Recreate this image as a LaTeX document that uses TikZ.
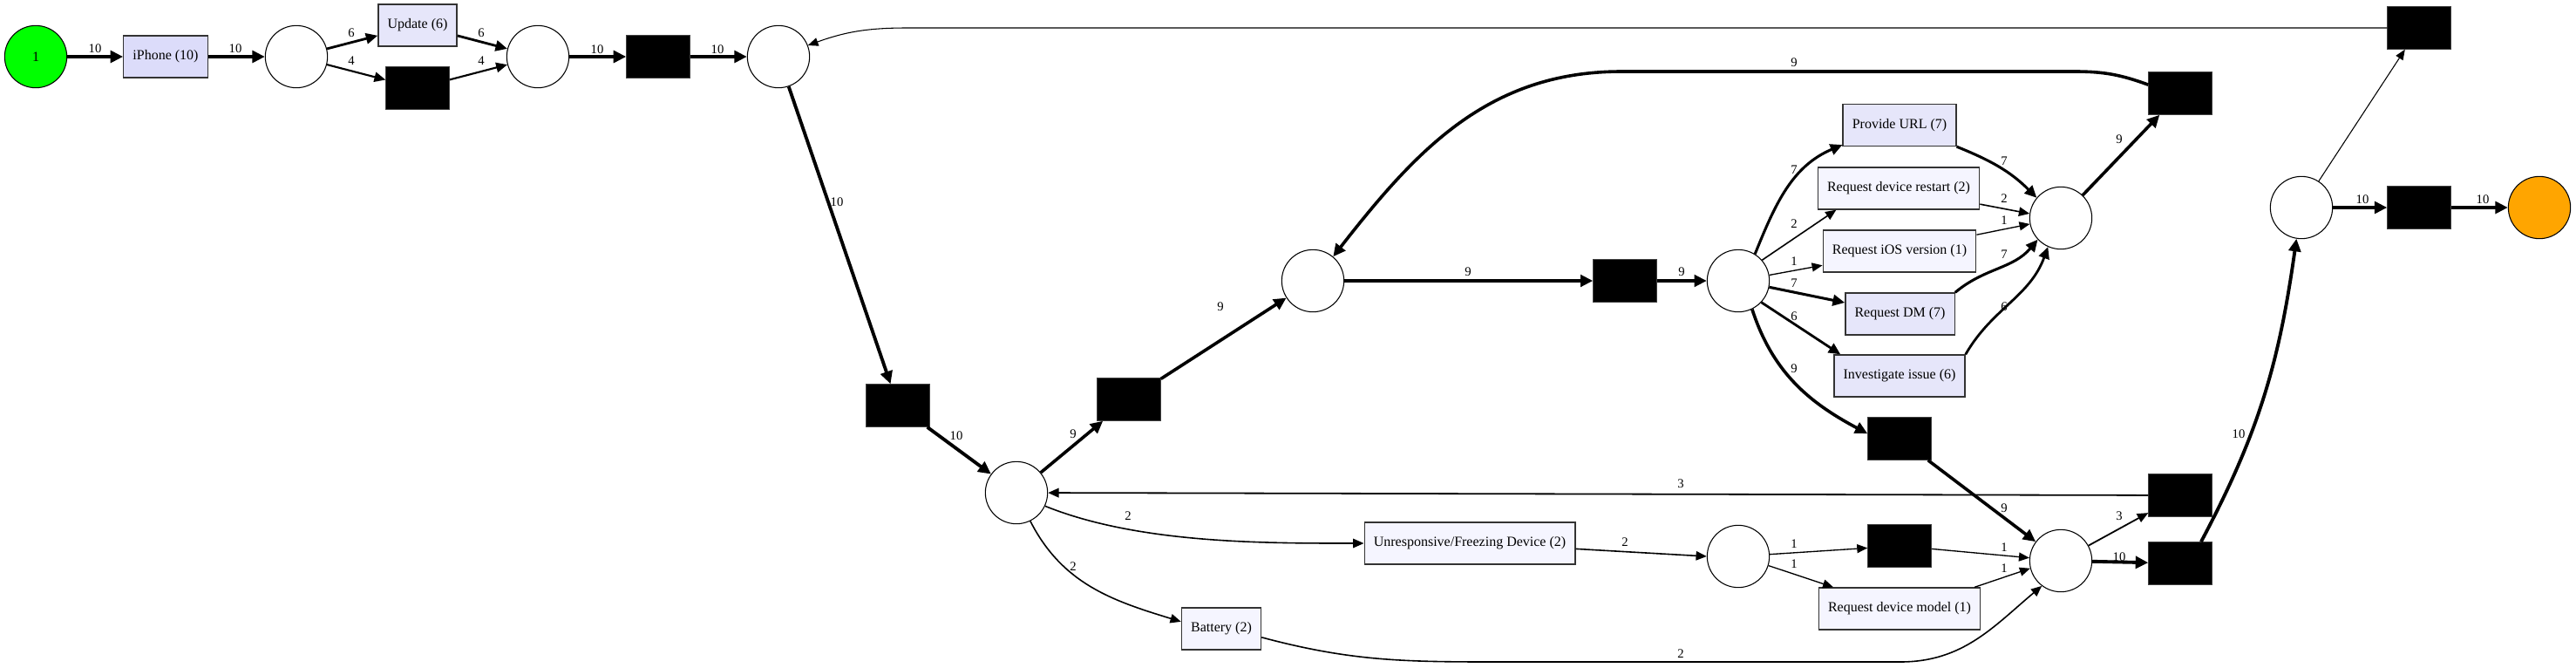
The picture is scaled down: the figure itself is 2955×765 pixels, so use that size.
\documentclass[tikz,border=0pt]{standalone}
\usepackage{fontspec}
\setmainfont{Liberation Serif}
\usepackage{xcolor}
\definecolor{pnhi}{HTML}{DCDCFA}
\definecolor{pnmid}{HTML}{E6E6FA}
\definecolor{pnlo}{HTML}{F5F5FF}
\definecolor{pnsrc}{HTML}{00FF00}
\definecolor{pnsnk}{HTML}{FFA500}
\usetikzlibrary{arrows.meta,positioning}
\tikzset{
  pnplace/.style={draw,circle,minimum size=53.5pt,inner sep=0pt,line width=0.8pt,font=\fontsize{12}{14}\selectfont},
  pntrans/.style={draw=black!80,fill=pnlo,line width=1pt,minimum height=36pt,inner xsep=8pt,font=\fontsize{12}{14}\selectfont},
  pnsilent/.style={draw=black!75,fill=black,line width=0.6pt,minimum width=54.5pt,minimum height=36.5pt,inner sep=0pt},
  pnarc/.style={line width=#1,-{Triangle[length=8pt 1,width=6pt 1.5]}},
  pnlabel/.style={font=\fontsize{11}{11}\selectfont,inner sep=1pt},
}
\begin{document}
\begin{tikzpicture}[x=0.75pt,y=0.75pt]
\useasboundingbox (0,0) rectangle (2955,-765);
% places
\node[pnplace,fill=pnsrc] (src) at (41,-65) {1};
\node[pnplace] (pa) at (340,-65) {};
\node[pnplace] (pb) at (617,-65) {};
\node[pnplace] (pc) at (893,-65) {};
\node[pnplace] (ph) at (1166,-565) {};
\node[pnplace] (pm) at (1506,-322) {};
\node[pnplace] (ps) at (1994,-322) {};
\node[pnplace] (pj) at (2364,-250) {};
\node[pnplace] (pg) at (2364,-643) {};
\node[pnplace] (pu) at (1994,-638) {};
\node[pnplace] (pe) at (2640,-238) {};
\node[pnplace,fill=pnsnk] (snk) at (2913,-238) {};
% visible transitions
\node[pntrans,fill=pnhi] (tiph) at (190,-65) {iPhone (10)};
\node[pntrans,fill=pnmid] (tupd) at (479,-29) {Update (6)};
\node[pntrans,fill=pnmid] (turl) at (2179,-143.5) {Provide URL (7)};
\node[pntrans] (trst) at (2178,-216) {Request device restart (2)};
\node[pntrans] (tios) at (2179,-288) {Request iOS version (1)};
\node[pntrans,fill=pnmid] (tdm) at (2179.5,-360) {Request DM (7)};
\node[pntrans,fill=pnmid] (tinv) at (2179,-431) {Investigate issue (6)};
\node[pntrans] (tunr) at (1686,-623) {Unresponsive/Freezing Device (2)};
\node[pntrans] (tbat) at (1401,-721) {Battery (2)};
\node[pntrans] (tmod) at (2179,-698) {Request device model (1)};
% silent transitions
\node[pnsilent] (sa) at (479,-101) {};
\node[pnsilent] (sb) at (755,-65) {};
\node[pnsilent] (sc) at (1030,-465) {};
\node[pnsilent] (sd) at (1295,-458) {};
\node[pnsilent] (se) at (1864,-322) {};
\node[pnsilent] (sf) at (2179,-503) {};
\node[pnsilent] (sg) at (2501,-107) {};
\node[pnsilent] (sh) at (2775,-32) {};
\node[pnsilent] (si) at (2775,-238) {};
\node[pnsilent] (sj) at (2501,-568) {};
\node[pnsilent] (sk) at (2501,-646) {};
\node[pnsilent] (sl) at (2179,-626) {};
% arcs
\draw[pnarc=2.9pt] (src) -- (tiph) node[pnlabel] at (109,-56) {10};
\draw[pnarc=2.9pt] (tiph) -- (pa) node[pnlabel] at (270,-56) {10};
\draw[pnarc=2.1pt] (pa) -- (tupd) node[pnlabel] at (403,-38) {6};
\draw[pnarc=1.6pt] (pa) -- (sa) node[pnlabel] at (403,-70) {4};
\draw[pnarc=2.1pt] (tupd) -- (pb) node[pnlabel] at (552,-38) {6};
\draw[pnarc=1.6pt] (sa) -- (pb) node[pnlabel] at (552,-70) {4};
\draw[pnarc=2.9pt] (pb) -- (sb) node[pnlabel] at (685,-57) {10};
\draw[pnarc=2.9pt] (sb) -- (pc) node[pnlabel] at (823,-57) {10};
\draw[pnarc=2.9pt] (pc) -- (sc) node[pnlabel] at (960,-232) {10};
\draw[pnarc=2.9pt] (sc) -- (ph) node[pnlabel] at (1097,-500) {10};
\draw[pnarc=2.7pt] (ph) -- (sd) node[pnlabel] at (1231,-498) {9};
\draw[pnarc=2.7pt] (sd) -- (pm) node[pnlabel] at (1400,-352) {9};
\draw[pnarc=2.7pt] (pm) -- (se) node[pnlabel] at (1684,-312) {9};
\draw[pnarc=2.7pt] (se) -- (ps) node[pnlabel] at (1929,-312) {9};
% fan out
\draw[pnarc=2.3pt] (ps.58) to[out=68,in=203] (turl.199) node[pnlabel] at (2058,-195) {7};
\draw[pnarc=1.2pt] (ps.41) -- (trst.199) node[pnlabel] at (2058,-257) {2};
\draw[pnarc=1pt] (ps) -- (tios) node[pnlabel] at (2058,-300) {1};
\draw[pnarc=2.3pt] (ps) -- (tdm) node[pnlabel] at (2058,-325) {7};
\draw[pnarc=2.1pt] (ps.-43) -- (tinv.160) node[pnlabel] at (2058,-363) {6};
\draw[pnarc=2.7pt] (ps.-64) to[out=-72,in=152] (sf.171) node[pnlabel] at (2058,-423) {9};
% fan in
\draw[pnarc=2.3pt] (turl.south east) to[out=-22,in=135] (pj.140) node[pnlabel] at (2299,-185) {7};
\draw[pnarc=1.2pt] (trst.-11) -- (pj.172) node[pnlabel] at (2299,-228) {2};
\draw[pnarc=1pt] (tios.12) -- (pj.191) node[pnlabel] at (2299,-253) {1};
\draw[pnarc=2.3pt] (tdm.north east) to[out=40,in=230] (pj.223) node[pnlabel] at (2299,-292) {7};
\draw[pnarc=2.1pt] (tinv.north east) to[out=60,in=250] (pj.246) node[pnlabel] at (2299,-352) {6};
\draw[pnarc=2.7pt] (pj) -- (sg) node[pnlabel] at (2431,-160) {9};
\draw[pnarc=2.7pt] (sg.165) to[out=160,in=0] (2380,-82) -- (1860,-82) to[out=180,in=52] (pm.50) node[pnlabel] at (2058,-72) {9};
% right part
\draw[pnarc=0.8pt] (pe) -- (sh);
\draw[pnarc=0.8pt] (sh.west) -- (1040,-32) to[out=180,in=20] (pc.21);
\draw[pnarc=2.9pt] (pe) -- (si) node[pnlabel] at (2710,-229) {10};
\draw[pnarc=2.9pt] (si) -- (snk) node[pnlabel] at (2848,-229) {10};
\draw[pnarc=2.9pt] (sk.46) to[out=62,in=262] (pe.261) node[pnlabel] at (2568,-498) {10};
\draw[pnarc=1.35pt] (pg) -- (sj) node[pnlabel] at (2431,-592) {3};
\draw[pnarc=2.9pt] (pg) -- (sk) node[pnlabel] at (2431,-639) {10};
\draw[pnarc=1.35pt] (sj) -- (ph) node[pnlabel] at (1928,-555) {3};
\draw[pnarc=2.7pt] (sf) -- (pg) node[pnlabel] at (2299,-583) {9};
% lower part
\draw[pnarc=1.2pt] (ph.-25) to[out=-22,in=180,looseness=0.8] (tunr.west) node[pnlabel] at (1294,-592) {2};
\draw[pnarc=1.2pt] (ph.-64) to[out=-63,in=163] (tbat.170) node[pnlabel] at (1231,-650) {2};
\draw[pnarc=1.2pt] (tunr.-3) -- (pu.180) node[pnlabel] at (1864,-622) {2};
\draw[pnarc=1pt] (pu) -- (sl) node[pnlabel] at (2058,-624) {1};
\draw[pnarc=1pt] (pu.-17) -- (tmod.162) node[pnlabel] at (2058,-647) {1};
\draw[pnarc=1pt] (sl) -- (pg) node[pnlabel] at (2299,-628) {1};
\draw[pnarc=1pt] (tmod.16) -- (pg.194) node[pnlabel] at (2299,-652) {1};
\draw[pnarc=1.2pt] (tbat.-12) to[out=-15,in=180] (1720,-759) -- (2180,-759) to[out=0,in=220] (pg.233) node[pnlabel] at (1928,-750) {2};
\end{tikzpicture}
\end{document}
